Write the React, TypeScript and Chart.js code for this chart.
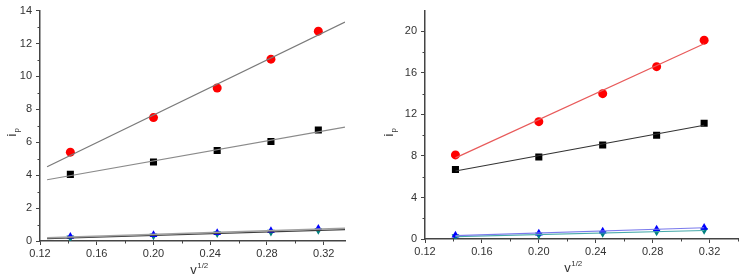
import React, { useEffect, useRef } from 'react';
import { Chart, registerables } from 'chart.js';

Chart.register(...registerables);

// ---- data ----
const xValues = [0.1414, 0.2, 0.2449, 0.2828, 0.3162];

const leftRed = [5.4, 7.5, 9.3, 11.05, 12.75];
const leftBlack = [4.05, 4.8, 5.5, 6.05, 6.75];
const leftBlue = [0.28, 0.38, 0.5, 0.62, 0.76];
const leftGreen = [0.2, 0.32, 0.45, 0.55, 0.65];

const rightRed = [8.1, 11.3, 14.0, 16.6, 19.15];
const rightBlack = [6.7, 7.9, 9.05, 10.0, 11.15];
const rightBlue = [0.35, 0.55, 0.75, 0.95, 1.1];
const rightGreen = [0.25, 0.4, 0.55, 0.7, 0.85];

const xTicks = [0.12, 0.16, 0.2, 0.24, 0.28, 0.32];
const leftYTicks = [0, 2, 4, 6, 8, 10, 12, 14];
const rightYTicks = [0, 4, 8, 12, 16, 20];

const leftFitRange = [0.125, 0.335];
const rightFitRange = [0.1414, 0.3162];

const xTitle = 'v';
const xTitleSup = '1/2';
const yTitle = 'i';
const yTitleSub = 'p';

// ---- helpers ----
function pts(ys: number[]) {
  return xValues.map((x, i) => ({ x, y: ys[i] }));
}

function fit(ys: number[], range: number[]) {
  const n = xValues.length;
  const mx = xValues.reduce((a, b) => a + b, 0) / n;
  const my = ys.reduce((a, b) => a + b, 0) / n;
  let sxy = 0;
  let sxx = 0;
  for (let i = 0; i < n; i++) {
    sxy += (xValues[i] - mx) * (ys[i] - my);
    sxx += (xValues[i] - mx) * (xValues[i] - mx);
  }
  const b = sxy / sxx;
  return range.map((x) => ({ x, y: my + b * (x - mx) }));
}

const FONT = "Arial, 'Liberation Sans', sans-serif";

function markerDs(data: any[], color: string, style: string, radius: number, rotation = 0) {
  return {
    type: 'scatter' as const,
    data,
    showLine: false,
    pointStyle: style,
    pointRadius: radius,
    pointRotation: rotation,
    backgroundColor: color,
    borderColor: color,
    borderWidth: 0,
    order: 1,
  };
}

function lineDs(data: any[], color: string, width = 1.2) {
  return {
    type: 'scatter' as const,
    data,
    showLine: true,
    pointRadius: 0,
    borderColor: color,
    borderWidth: width,
    backgroundColor: color,
    order: 0,
  };
}

function makeOptions(cfg: {
  xMax: number;
  yMax: number;
  yTicks: number[];
  yWidth: number;
  xHeight: number;
  padding: any;
  yTitlePos: number[];
  xTitlePos: number[];
}) {
  return {
    responsive: false,
    animation: false as const,
    devicePixelRatio: 1,
    layout: { padding: cfg.padding },
    plugins: {
      legend: { display: false },
      tooltip: { enabled: false },
      titles: { yTitlePos: cfg.yTitlePos, xTitlePos: cfg.xTitlePos },
    },
    scales: {
      x: {
        type: 'linear' as const,
        min: 0.12,
        max: cfg.xMax,
        afterBuildTicks: (s: any) => {
          s.ticks = xTicks.map((v) => ({ value: v }));
        },
        afterFit: (s: any) => {
          s.height = cfg.xHeight;
        },
        ticks: {
          callback: (v: any) => Number(v).toFixed(2),
          font: { family: FONT, size: 11 },
          color: '#333',
          padding: 2,
          maxRotation: 0,
          autoSkip: false,
        },
        grid: { drawOnChartArea: false, drawTicks: true, tickLength: 4, color: '#444', tickWidth: 1 },
        border: { color: '#444', width: 1.5 },
      },
      y: {
        type: 'linear' as const,
        min: 0,
        max: cfg.yMax,
        afterBuildTicks: (s: any) => {
          s.ticks = cfg.yTicks.map((v) => ({ value: v }));
        },
        afterFit: (s: any) => {
          s.width = cfg.yWidth;
        },
        ticks: {
          callback: (v: any) => String(v),
          font: { family: FONT, size: 11 },
          color: '#333',
          padding: 4,
        },
        grid: { drawOnChartArea: false, drawTicks: true, tickLength: 4, color: '#444', tickWidth: 1 },
        border: { color: '#444', width: 1.5 },
      },
    },
  };
}

const extrasPlugin = {
  id: 'titles',
  afterDraw(chart: any, _args: any, opts: any) {
    const ctx = chart.ctx;
    ctx.save();
    ctx.strokeStyle = '#444';
    ctx.lineWidth = 1;
    // minor ticks
    const xs = chart.scales.x;
    const ys = chart.scales.y;
    const xt = xs.ticks.map((t: any) => t.value);
    ctx.beginPath();
    for (let i = 0; i < xt.length; i++) {
      const mids = [];
      if (i < xt.length - 1) mids.push((xt[i] + xt[i + 1]) / 2);
      else mids.push(xt[i] + (xt[i] - xt[i - 1]) / 2);
      for (const m of mids) {
        if (m > xs.max + 1e-9) continue;
        const px = Math.round(xs.getPixelForValue(m)) + 0.5;
        ctx.moveTo(px, xs.top);
        ctx.lineTo(px, xs.top + 2.5);
      }
    }
    const yt = ys.ticks.map((t: any) => t.value);
    for (let i = 0; i < yt.length - 1; i++) {
      const m = (yt[i] + yt[i + 1]) / 2;
      const py = Math.round(ys.getPixelForValue(m)) + 0.5;
      ctx.moveTo(ys.right, py);
      ctx.lineTo(ys.right - 2.5, py);
    }
    ctx.stroke();

    // y title (rotated)
    ctx.fillStyle = '#333';
    const [yx, yy] = opts.yTitlePos;
    ctx.translate(yx, yy);
    ctx.rotate(-Math.PI / 2);
    ctx.font = `13px ${FONT}`;
    ctx.textBaseline = 'middle';
    ctx.textAlign = 'left';
    const w = ctx.measureText(yTitle).width;
    ctx.fillText(yTitle, -w / 2 - 2, 0);
    ctx.font = `8px ${FONT}`;
    ctx.fillText(yTitleSub, w / 2 - 1, 5);
    ctx.setTransform(1, 0, 0, 1, 0, 0);

    // x title
    const [xx, xy] = opts.xTitlePos;
    ctx.font = `13px ${FONT}`;
    ctx.textBaseline = 'alphabetic';
    ctx.textAlign = 'left';
    const vw = ctx.measureText(xTitle).width;
    ctx.font = `8px ${FONT}`;
    const sw = ctx.measureText(xTitleSup).width;
    const start = xx - (vw + sw) / 2;
    ctx.font = `13px ${FONT}`;
    ctx.fillText(xTitle, start, xy);
    ctx.font = `8px ${FONT}`;
    ctx.fillText(xTitleSup, start + vw + 0.5, xy - 6);
    ctx.restore();
  },
};

function LeftChart() {
  const ref = useRef<HTMLCanvasElement>(null);
  useEffect(() => {
    const chart = new Chart(ref.current!, {
      type: 'scatter',
      data: {
        datasets: [
          lineDs(fit(leftRed, leftFitRange), '#7a7a7a'),
          lineDs(fit(leftBlack, leftFitRange), '#8a8a8a'),
          lineDs(fit(leftBlue, leftFitRange), '#a0a0a0', 1.5),
          lineDs(fit(leftGreen, leftFitRange), '#404040', 1.3),
          markerDs(pts(leftRed), '#ff0000', 'circle', 4.5),
          markerDs(pts(leftBlack), '#000000', 'rect', 5),
          markerDs(pts(leftBlue), '#0000ff', 'triangle', 4.5),
          markerDs(pts(leftGreen), '#008080', 'triangle', 4.5, 180),
        ] as any,
      },
      options: makeOptions({
        xMax: 0.335,
        yMax: 14,
        yTicks: leftYTicks,
        yWidth: 40,
        xHeight: 39,
        padding: { left: 0, right: 20, top: 9, bottom: 0 },
        yTitlePos: [12, 133],
        xTitlePos: [199, 274],
      }) as any,
      plugins: [extrasPlugin],
    });
    return () => chart.destroy();
  }, []);
  return <canvas ref={ref} width={365} height={280} />;
}

function RightChart() {
  const ref = useRef<HTMLCanvasElement>(null);
  useEffect(() => {
    const chart = new Chart(ref.current!, {
      type: 'scatter',
      data: {
        datasets: [
          lineDs(fit(rightRed, rightFitRange), '#e85a5a'),
          lineDs(fit(rightBlack, rightFitRange), '#333333'),
          lineDs(fit(rightBlue, rightFitRange), '#7b7bec'),
          lineDs(fit(rightGreen, rightFitRange), '#48aaaa'),
          markerDs(pts(rightRed), '#ff0000', 'circle', 4.5),
          markerDs(pts(rightBlack), '#000000', 'rect', 5),
          markerDs(pts(rightBlue), '#0000ff', 'triangle', 4.5),
          markerDs(pts(rightGreen), '#008080', 'triangle', 4.5, 180),
        ] as any,
      },
      options: makeOptions({
        xMax: 0.34,
        yMax: 22,
        yTicks: rightYTicks,
        yWidth: 55,
        xHeight: 41,
        padding: { left: 0, right: 3, top: 8, bottom: 0 },
        yTitlePos: [19, 133],
        xTitlePos: [203, 272],
      }) as any,
      plugins: [extrasPlugin],
    });
    return () => chart.destroy();
  }, []);
  return <canvas ref={ref} width={373} height={280} />;
}

export default function App() {
  return (
    <div
      style={{
        position: 'fixed',
        left: 0,
        top: 0,
        width: 743,
        height: 280,
        background: '#fff',
      }}
    >
      <div style={{ position: 'absolute', left: 0, top: 0 }}>
        <LeftChart />
      </div>
      <div style={{ position: 'absolute', left: 370, top: 0 }}>
        <RightChart />
      </div>
    </div>
  );
}
